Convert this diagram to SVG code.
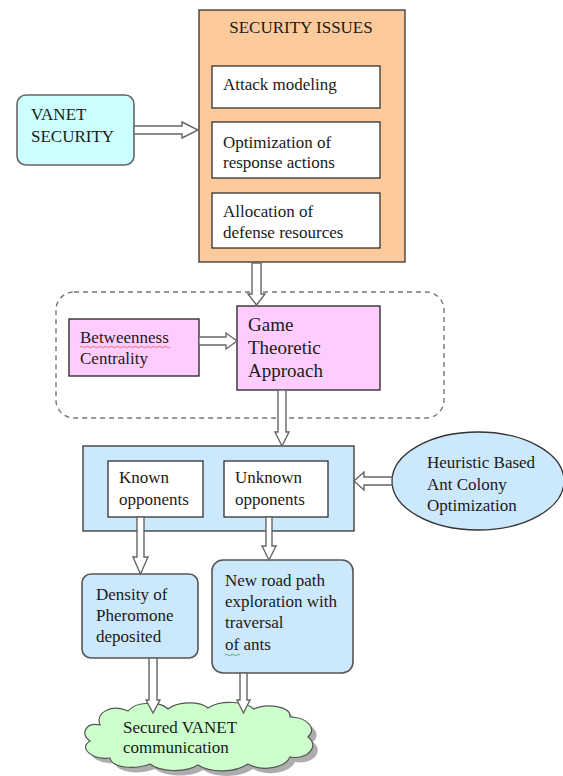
<svg xmlns="http://www.w3.org/2000/svg" width="563" height="776" viewBox="0 0 563 776">
<style>
text{font-family:"Liberation Serif","Times New Roman",serif;font-size:17px;fill:#1a1a1a}
.big{font-size:19px}
.arrow{fill:#fff;stroke:#666;stroke-width:1.4;stroke-linejoin:miter}
.inner{fill:#fff;stroke:#222;stroke-width:1.2}
.pink{fill:#FFCCFF;stroke:#222;stroke-width:1.3}
.blue{fill:#CCE8FC;stroke:#333;stroke-width:1.3}
.rblue{fill:#CCE8FC;stroke:#555;stroke-width:1.6}
</style>
<rect width="563" height="776" fill="#fff"/>

<g id="security-issues">
<rect x="199" y="10" width="206" height="252" fill="#FDCB9B" stroke="#333" stroke-width="1.3"/>
<text x="301" y="33" text-anchor="middle">SECURITY ISSUES</text>
</g>
<g id="attack-modeling">
<rect class="inner" x="212" y="66" width="168" height="42"/>
<text x="223" y="90">Attack modeling</text>
</g>
<g id="optimization">
<rect class="inner" x="212" y="122" width="168" height="56"/>
<text x="223" y="148">Optimization of</text>
<text x="223" y="168">response actions</text>
</g>
<g id="allocation">
<rect class="inner" x="212" y="193" width="168" height="55"/>
<text x="223" y="217">Allocation of</text>
<text x="223" y="238">defense resources</text>
</g>

<g id="vanet-security">
<rect x="17" y="95" width="117" height="70" rx="9" fill="#CCFFFF" stroke="#666" stroke-width="1.6"/>
<text x="31" y="120">VANET</text>
<text x="31" y="142">SECURITY</text>
</g>

<g id="game-group">
<rect x="56" y="292" width="388" height="126" rx="18" fill="none" stroke="#777" stroke-width="1.4" stroke-dasharray="5,4"/>
</g>
<g id="betweenness">
<rect class="pink" x="69" y="319" width="130" height="57"/>
<text x="80" y="343">Betweenness</text>
<path d="M80,347 q1.5,-1.5 3,0 t3,0 t3,0 t3,0 t3,0 t3,0 t3,0 t3,0 t3,0 t3,0 t3,0 t3,0 t3,0 t3,0 t3,0 t3,0 t3,0 t3,0 t3,0 t3,0 t3,0 t3,0 t3,0 t3,0 t3,0 t3,0 t3,0 t3,0 t3,0 t3,0" fill="none" stroke="#e05050" stroke-width="0.8"/>
<text x="80" y="364">Centrality</text>
</g>
<g id="game-theoretic">
<rect class="pink" x="237" y="306" width="143" height="84"/>
<text class="big" x="248" y="331">Game</text>
<text class="big" x="248" y="354">Theoretic</text>
<text class="big" x="248" y="377">Approach</text>
</g>

<g id="opponents">
<rect class="blue" x="83" y="446" width="271" height="85"/>
</g>
<g id="known">
<rect class="inner" x="108" y="461" width="95" height="56"/>
<text x="119" y="483">Known</text>
<text x="119" y="505">opponents</text>
</g>
<g id="unknown">
<rect class="inner" x="224" y="461" width="104" height="56"/>
<text x="235" y="483">Unknown</text>
<text x="235" y="505">opponents</text>
</g>

<g id="aco">
<ellipse cx="478" cy="481" rx="86" ry="49" class="blue" stroke="#444"/>
<text x="427" y="468">Heuristic Based</text>
<text x="427" y="490">Ant Colony</text>
<text x="427" y="511">Optimization</text>
</g>

<g id="density">
<rect class="rblue" x="82" y="574" width="116" height="84" rx="9"/>
<text x="96" y="600">Density of</text>
<text x="96" y="621">Pheromone</text>
<text x="96" y="642">deposited</text>
</g>
<g id="new-road">
<rect class="rblue" x="212" y="560" width="141" height="113" rx="11"/>
<text x="225" y="586">New road path</text>
<text x="225" y="607">exploration with</text>
<text x="225" y="628">traversal</text>
<text x="225" y="650">of ants</text>
<path d="M225,655 q1.5,-1.5 3,0 t3,0 t3,0 t3,0 t3,0" fill="none" stroke="#3a9a3a" stroke-width="0.8"/>
</g>

<g id="secured">
<path transform="translate(5,5)" fill="#999" opacity="0.8" d="M100,725 C95,712 112,704 128,711 C136,701 160,701 168,709 C178,701 200,701 208,708 C220,700 245,701 254,709 C266,703 292,706 290,717 C306,717 318,728 308,737 C320,746 308,760 290,757 C285,768 262,772 248,764 C235,773 210,773 198,765 C185,773 160,772 150,764 C135,770 112,768 110,758 C92,760 78,748 90,741 C80,735 85,722 100,725 Z"/>
<path fill="#CCFFCC" stroke="#555" stroke-width="1.2" d="M100,725 C95,712 112,704 128,711 C136,701 160,701 168,709 C178,701 200,701 208,708 C220,700 245,701 254,709 C266,703 292,706 290,717 C306,717 318,728 308,737 C320,746 308,760 290,757 C285,768 262,772 248,764 C235,773 210,773 198,765 C185,773 160,772 150,764 C135,770 112,768 110,758 C92,760 78,748 90,741 C80,735 85,722 100,725 Z"/>
<text x="123" y="733">Secured VANET</text>
<text x="123" y="753">communication</text>
</g>

<g id="connectors">
<polygon class="arrow" points="134,126 182,126 182,122 198,130 182,138 182,134 134,134"/>
<polygon class="arrow" points="252,263 261,263 261,294 265,294 256.5,305 248,294 252,294"/>
<polygon class="arrow" points="199,337 226,337 226,333 237,341 226,349 226,345 199,345"/>
<polygon class="arrow" points="278,390 286,390 286,432 289,432 282,446 275,432 278,432"/>
<polygon class="arrow" points="392,477 364,477 364,472 354,481 364,490 364,485 392,485"/>
<polygon class="arrow" points="137,517 144,517 144,557 148,557 140.5,574 133,557 137,557"/>
<polygon class="arrow" points="266,517 272,517 272,546 276,546 269,560 262,546 266,546"/>
<polygon class="arrow" points="149,658 157,658 157,700 160,700 153,713 146,700 149,700"/>
<polygon class="arrow" points="240,673 247,673 247,700 250,700 243.5,713 237,700 240,700"/>
</g>
</svg>
